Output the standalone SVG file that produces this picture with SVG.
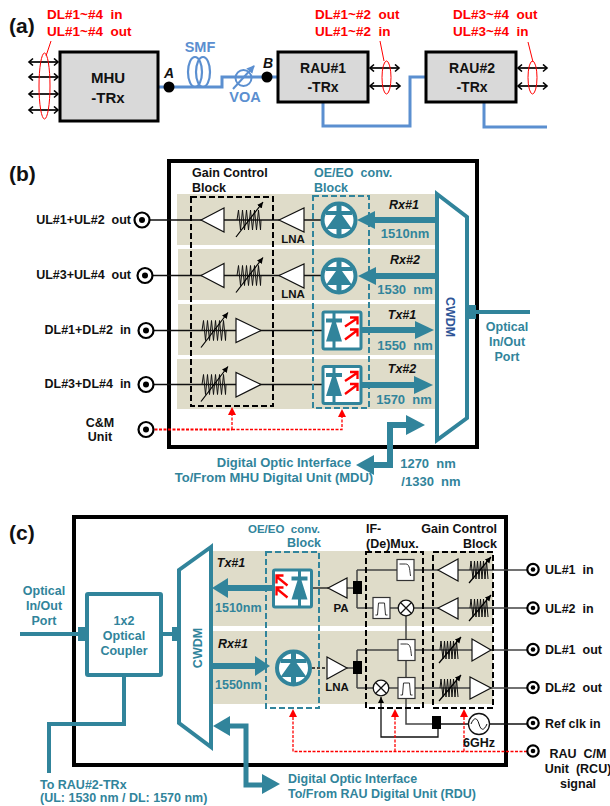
<svg xmlns="http://www.w3.org/2000/svg" width="610" height="806" viewBox="0 0 610 806">
<style>
text{font-family:"Liberation Sans",Arial,sans-serif;font-weight:700;white-space:pre;fill:#111}
.t12{font-size:12.5px}
.m{text-anchor:middle}
.e{text-anchor:end}
.red{fill:#f00;font-size:13.5px}
.teal{fill:#31849b;font-size:12.5px}
.blue{fill:#5b8fd0;font-size:14.5px}
.it{font-style:italic;font-size:12.5px}
.big{font-size:21px}
.box{fill:#d9d9d9;stroke:#000;stroke-width:3}
.frame{fill:#fff;stroke:#000;stroke-width:4}
.band{fill:#dfdcc9}
.dk{fill:none;stroke:#000;stroke-width:2;stroke-dasharray:6 3}
.dt{fill:none;stroke:#31849b;stroke-width:2;stroke-dasharray:6 3}
.amp{fill:#fff;stroke:#111;stroke-width:1.2}
.ln{fill:none;stroke:#111;stroke-width:1.3}
.lg{fill:none;stroke:#444;stroke-width:1.5}
.fib{fill:none;stroke:#5b8fd0;stroke-width:3}
.tl{fill:none;stroke:#31849b;stroke-width:4}
.tf{fill:#31849b}
.rd{fill:none;stroke:#f00;stroke-width:1.3;stroke-dasharray:3 1.5}
.rf{fill:#f00}
.ro{fill:none;stroke:#f00;stroke-width:1}
.da{fill:none;stroke:#000;stroke-width:1.7;marker-start:url(#chev);marker-end:url(#chev)}
.fl{fill:#fff;stroke:#333;stroke-width:1.2}
</style>
<defs>
<marker id="chev" markerWidth="8" markerHeight="10" refX="5.5" refY="4" orient="auto-start-reverse" markerUnits="userSpaceOnUse"><path d="M1.5,.5 L5.5,4 L1.5,7.500" fill="none" stroke="#000" stroke-width="1.6"/></marker>
<marker id="ah" markerWidth="8" markerHeight="8" refX="6" refY="3" orient="auto" markerUnits="userSpaceOnUse"><path d="M0,0 L6,3 L0,6Z" fill="#000"/></marker>
<marker id="ahb" markerWidth="10" markerHeight="10" refX="7" refY="4" orient="auto" markerUnits="userSpaceOnUse"><path d="M0,0 L8,4 L0,8Z" fill="#5b8fd0"/></marker>
<g id="att"><path d="M-12,0 L-10.5,-10 L-8.5,10 L-6.5,-10 L-4.5,10 L-2.5,-10 L-.5,10 L1.5,-10 L3.5,10 L5.500,-10 L7.500,10 L9.500,-10 L11.500,10 L12,0" fill="none" stroke="#111" stroke-width="1"/><path d="M-13,17 L14,-18" fill="none" stroke="#000" stroke-width="1.2" marker-end="url(#ah)"/></g>
<g id="att2"><path d="M-9,0 L-8,-9 L-6,9 L-4.500,-9 L-3,9 L-1.500,-9 L0,9 L1.500,-9 L3,9 L4.500,-9 L6,9 L7.500,-9 L9,9" fill="none" stroke="#111" stroke-width="1"/><path d="M-10,13 L12,-13" fill="none" stroke="#000" stroke-width="1.2" marker-end="url(#ah)"/></g>
<g id="pd"><circle r="16.500" fill="#fff" stroke="#31849b" stroke-width="4"/><path d="M-2.500,-16 H2.500 V-9 H13 V-5 H3 L13,9 H2.500 V16 H-2.500 V9 H-13 L-3,-5 H-13 V-9 H-2.500Z" fill="#31849b"/></g>
<g id="ld"><rect x="-19" y="-18.500" width="38" height="37" rx="1.500" fill="#fff" stroke="#31849b" stroke-width="3"/><path d="M-9.500,-18 H-6.500 V-12 H0 V-8 H-6 L0,11 H-6.500 V18 H-9.500 V11 H-16 L-10,-8 H-16 V-12 H-9.500Z" fill="#31849b"/><path d="M3,-4 L15,-12 M8,-13 H15.500 V-6 M3,9 L15,0 M8,-1 H15.500 V6" fill="none" stroke="#f00" stroke-width="2.300"/></g>
<g id="ldm"><rect x="-19" y="-18.500" width="38" height="37" rx="1.500" fill="#fff" stroke="#31849b" stroke-width="3"/><path d="M5.500,-18 H8.500 V-12 H15 V-8 H9 L15,11 H8.500 V18 H5.500 V11 H-1 L5,-8 H-1 V-12 H5.500Z" fill="#31849b"/><path d="M-5,-3 L-16,-12 M-16,-5 V-13 H-9 M-5,9 L-16,0 M-16,7 V-1 H-9" fill="none" stroke="#f00" stroke-width="2.300"/></g>
<g id="port"><circle r="7.500" fill="#fff" stroke="#000" stroke-width="2.200"/><circle r="3" fill="#000"/></g>
<g id="portc"><circle r="5.700" fill="#fff" stroke="#000" stroke-width="2.200"/><circle r="2.300" fill="#000"/></g>
<g id="mix"><circle r="7.800" fill="#fff" stroke="#111" stroke-width="1.300"/><path d="M-5.500,-5.500 L5.500,5.500 M-5.500,5.500 L5.500,-5.500" stroke="#111" stroke-width="1.300"/></g>
<g id="lp"><rect x="-8.500" y="-10.500" width="17" height="21" class="fl"/><path d="M-6,-6 H0 C4,-6 4,-2 5,6" fill="none" stroke="#333" stroke-width="1"/></g>
<g id="bp"><rect x="-8.500" y="-10.500" width="17" height="21" class="fl"/><path d="M-6,7 H-4 L-3,-5 H3 L4,7 H6" fill="none" stroke="#333" stroke-width="1"/></g>
</defs>
<rect width="610" height="806" fill="#fff"/>

<!-- panel a -->
<text class="big" x="9" y="33">(a)</text>
<g id="a-connectors">
<path class="fib" d="M158,87 H222 V77 H278"/>
<path class="fib" d="M323,102 V126 H410 V77 H426"/>
<path class="fib" d="M484,102 V127 H547"/>
<path class="da" d="M29,62 H58"/><path class="da" d="M29,77 H58"/><path class="da" d="M29,94 H58"/><path class="da" d="M29,110 H58"/>
<path class="da" d="M370,68 H399"/><path class="da" d="M370,86 H400"/>
<path class="da" d="M518,68 H547"/><path class="da" d="M518,86 H547"/>
<ellipse class="ro" cx="44.500" cy="86" rx="5.500" ry="33"/><path class="ro" d="M51,41 L46,56"/>
<ellipse class="ro" cx="386.500" cy="77.500" rx="4.500" ry="16.500"/><path class="ro" d="M380,41 L384,61"/>
<ellipse class="ro" cx="532.500" cy="77.500" rx="4.500" ry="16.500"/><path class="ro" d="M528,42 L533,62"/>
</g>
<g id="mhu"><rect class="box" x="60" y="52" width="98" height="69"/><text class="m" style="font-size:15px" x="108" y="83">MHU</text><text class="m" style="font-size:15px" x="108" y="103">-TRx</text></g>
<g id="rau1"><rect class="box" x="278" y="52" width="90" height="50"/><text class="m" style="font-size:14px" x="323" y="73">RAU#1</text><text class="m" style="font-size:14px" x="323" y="92">-TRx</text></g>
<g id="rau2"><rect class="box" x="426" y="52" width="90" height="50"/><text class="m" style="font-size:14px" x="472" y="73">RAU#2</text><text class="m" style="font-size:14px" x="472" y="92">-TRx</text></g>
<g id="smf"><ellipse cx="195" cy="72" rx="7" ry="15" fill="none" stroke="#5b8fd0" stroke-width="2.200"/><ellipse cx="203" cy="72" rx="7" ry="15" fill="none" stroke="#5b8fd0" stroke-width="2.200"/><text class="blue m" x="200" y="52">SMF</text></g>
<g id="voa"><circle cx="243.500" cy="78" r="8" fill="none" stroke="#5b8fd0" stroke-width="2"/><path d="M233,89 L254,66" fill="none" stroke="#5b8fd0" stroke-width="2" marker-end="url(#ahb)"/><text class="blue m" x="245" y="102">VOA</text></g>
<g id="pointA"><circle cx="169" cy="87" r="5.500" fill="#000"/><text class="it" style="font-size:14px" x="164" y="78">A</text></g>
<g id="pointB"><circle cx="267" cy="77" r="5.500" fill="#000"/><text class="it" style="font-size:14px" x="263" y="68">B</text></g>
<g id="a-labels">
<text class="red" x="47" y="19">DL#1~#4  in</text><text class="red" x="47" y="36">UL#1~#4  out</text>
<text class="red" x="315" y="19">DL#1~#2  out</text><text class="red" x="315" y="36">UL#1~#2  in</text>
<text class="red" x="453" y="19">DL#3~#4  out</text><text class="red" x="453" y="36">UL#3~#4  in</text>
</g>

<!-- panel b -->
<text class="big" x="9" y="181">(b)</text>
<rect class="frame" x="169" y="161" width="308" height="286"/>
<g id="b-bands">
<rect class="band" x="177" y="194" width="258" height="51"/><rect class="band" x="178" y="249" width="257" height="51"/>
<rect class="band" x="178" y="304" width="257" height="51"/><rect class="band" x="177" y="359" width="258" height="50"/>
</g>
<g id="b-connectors">
<path class="ln" d="M146,220 H322"/><path class="ln" d="M149,275.500 H322"/>
<path class="ln" d="M150,330.500 H323"/><path class="ln" d="M150,384.500 H323"/>
<path class="rd" style="stroke-width:1.800" d="M150,429.500 H232"/>
<path class="rd" d="M232,429.500 H342 V416 M232,429.500 V414"/>
<path class="rf" d="M232,407 L236,415 H228Z M342,409 L346,417 H338Z"/>
<path class="tl" d="M467,312 H530"/>
<rect class="tf" x="467" y="305" width="9" height="14"/>
</g>
<g id="gain-block-b"><rect class="dk" x="191" y="197" width="82" height="209"/><text class="t12" x="192" y="177">Gain Control</text><text class="t12" x="192" y="192">Block</text></g>
<g id="oe-block-b"><rect class="dt" x="313" y="196" width="56" height="212"/><text class="teal" x="314" y="177">OE/EO  conv.</text><text class="teal" x="314" y="192">Block</text></g>
<g id="rx1-b"><polygon class="amp" points="201,220 224,208 224,232"/><use href="#att" x="249" y="220"/><polygon class="amp" points="279,220 304,208 304,232"/><text class="m" style="font-size:11.500px" x="293" y="243">LNA</text><use href="#pd" x="339" y="220"/></g>
<g id="rx2-b"><polygon class="amp" points="201,275.500 224,263.500 224,287.500"/><use href="#att" x="249" y="275.500"/><polygon class="amp" points="279,275.500 304,264 304,288"/><text class="m" style="font-size:11.500px" x="293" y="298">LNA</text><use href="#pd" x="339" y="276"/></g>
<g id="tx1-b"><use href="#att" x="214" y="330.500"/><polygon class="amp" points="236,318.500 236,342.500 261,330.500"/><use href="#ld" x="342" y="330.500"/></g>
<g id="tx2-b"><use href="#att" x="214" y="384.500"/><polygon class="amp" points="236,372.500 236,397 261,384.500"/><use href="#ld" x="342" y="385"/></g>
<g id="b-optical">
<path class="tl" style="stroke-width:6" d="M370,220 H436"/><polygon class="tf" points="357,220 375,211 375,229"/>
<path class="tl" style="stroke-width:6" d="M372,276 H436"/><polygon class="tf" points="358,276 376,267 376,285"/>
<path class="tl" style="stroke-width:6" d="M362,330 H418"/><polygon class="tf" points="434,330 415,321 415,339"/>
<path class="tl" style="stroke-width:6" d="M362,385 H416"/><polygon class="tf" points="433,385 414,376 414,394"/>
<path class="tl" style="stroke-width:6" d="M408,425 H390 V465 H372"/>
<polygon class="tf" points="425,425 406,415 406,435"/><polygon class="tf" points="356,465 374,455 374,475"/>
</g>
<g id="cwdm-b"><polygon points="437,194 467,217 467,418 437,440" fill="#fff" stroke="#31849b" stroke-width="4"/><text class="m" style="font-size:12.500px;fill:#2f5597" transform="translate(446,317) rotate(90)">CWDM</text></g>
<g id="b-labels">
<text class="it m" x="404" y="209">Rx#1</text><text class="teal m" style="font-size:13px" x="405" y="238">1510nm</text>
<text class="it m" x="405" y="264">Rx#2</text><text class="teal m" style="font-size:13px" x="405" y="294">1530  nm</text>
<text class="it m" x="402" y="319">Tx#1</text><text class="teal m" style="font-size:13px" x="405" y="350">1550  nm</text>
<text class="it m" x="402" y="373">Tx#2</text><text class="teal m" style="font-size:13px" x="404" y="404">1570  nm</text>
<text class="teal m" x="507" y="331">Optical</text><text class="teal m" x="507" y="346">In/Out</text><text class="teal m" x="507" y="361">Port</text>
<text class="teal m" style="font-size:13px" x="284" y="467">Digital Optic Interface</text><text class="teal m" style="font-size:13px" x="274" y="482">To/From MHU Digital Unit (MDU)</text>
<text class="teal m" style="font-size:13px" x="428" y="468">1270  nm</text><text class="teal m" style="font-size:13px" x="431" y="486">/1330  nm</text>
</g>
<g id="port-ul12"><use href="#port" x="142" y="220"/><text class="t12 e" x="131" y="224">UL#1+UL#2  out</text></g>
<g id="port-ul34"><use href="#port" x="145" y="275.500"/><text class="t12 e" x="131" y="279">UL#3+UL#4  out</text></g>
<g id="port-dl12"><use href="#port" x="146" y="330.500"/><text class="t12 e" x="131" y="334">DL#1+DL#2  in</text></g>
<g id="port-dl34"><use href="#port" x="146" y="384.500"/><text class="t12 e" x="131" y="388">DL#3+DL#4  in</text></g>
<g id="port-cm"><use href="#port" x="146" y="429.500"/><text class="t12 m" x="100" y="427">C&amp;M</text><text class="t12 m" x="100" y="441">Unit</text></g>

<!-- panel c -->
<text class="big" x="9" y="540">(c)</text>
<rect class="frame" x="74" y="517" width="432" height="248"/>
<g id="c-bands"><rect class="band" x="212" y="551" width="281" height="75"/><rect class="band" x="212" y="631" width="281" height="73"/></g>
<g id="c-connectors">
<path class="lg" d="M347,588 H357 M357,570 V608 M357,570 H527 M357,608 H527"/>
<path class="ln" d="M312,588 H328"/>
<path class="lg" d="M347,668 H357 M357,650 V688 M357,650 H527 M357,688 H527"/>
<path class="ln" stroke-dasharray="3 2" d="M312,668 H327"/>
<path class="lg" d="M406,616 V724 H432"/>
<path class="ln" d="M441,724 H527"/>
<path class="ln" d="M438,729 V737 H381 V697" marker-end="url(#ah)"/>
<path class="rd" d="M527,751.500 H293 V716 M395,751.500 V716 M464,751.500 V716"/>
<path class="rf" d="M293,709 L297,717 H289Z M395,709 L399,717 H391Z M464,709 L468,717 H460Z"/>
<path class="tl" d="M20,634 H87 M161,634 H180"/>
<rect class="tf" x="78" y="627" width="10" height="14"/><rect class="tf" x="172" y="627" width="9" height="14"/>
<path class="tl" d="M124,675 V724 H49 V773"/>
</g>
<g id="oe-block-c"><rect class="dt" x="266" y="552" width="53" height="156"/><text class="teal m" style="font-size:11.500px" x="284" y="533">OE/EO  conv.</text><text class="teal" style="font-size:12.500px" x="287" y="547">Block</text></g>
<g id="mux-block"><rect class="dk" x="366" y="552" width="57" height="156"/><text class="t12" x="366" y="533">IF-</text><text class="t12" x="366" y="548">(De)Mux.</text></g>
<g id="gain-block-c"><rect class="dk" x="433" y="552" width="60" height="156"/><text class="t12 e" x="497" y="533">Gain Control</text><text class="t12 e" x="497" y="548">Block</text></g>
<g id="tx-c"><use href="#ldm" x="292.500" y="588.500"/><polygon class="amp" points="328,588 347,578 347,598"/><text class="m" style="font-size:11.500px" x="341" y="612">PA</text><rect x="353" y="581" width="9" height="13" fill="#000"/></g>
<g id="rx-c"><use href="#pd" x="293.500" y="668"/><polygon class="amp" points="327,657 327,679 347,668"/><text class="m" style="font-size:11.500px" x="337" y="691">LNA</text><rect x="353" y="661" width="9" height="13" fill="#000"/></g>
<g id="mux-c">
<use href="#lp" x="405.500" y="570"/><use href="#bp" x="381.500" y="608"/><use href="#mix" x="406" y="608"/>
<use href="#lp" x="406.500" y="650"/><use href="#mix" x="381" y="688"/><use href="#bp" x="406.500" y="688"/>
</g>
<g id="gain-c">
<polygon class="amp" points="438,570 458,559 458,581"/><use href="#att2" x="479" y="570"/>
<polygon class="amp" points="438,608 458,598 458,619"/><use href="#att2" x="479" y="608"/>
<use href="#att2" x="449" y="650"/><polygon class="amp" points="472,639 472,661 491,650"/>
<use href="#att2" x="449" y="688"/><polygon class="amp" points="470,677 470,699 491,688"/>
</g>
<g id="clock-c"><rect x="432" y="716" width="9" height="13" fill="#000"/><circle cx="479" cy="724" r="10.500" fill="#fff" stroke="#111" stroke-width="1.300"/><path d="M471,724 C474,717 477,717 479,724 C481,731 484,731 487,724" fill="none" stroke="#111" stroke-width="1"/><text class="m" style="font-size:12.500px" x="479" y="747">6GHz</text></g>
<g id="c-optical">
<path class="tl" style="stroke-width:6" d="M226,588 H273"/><polygon class="tf" points="212,588 228,578 228,598"/>
<path class="tl" style="stroke-width:6" d="M212,666 H257"/><polygon class="tf" points="270,666 255,656 255,676"/>
<path class="tl" style="stroke-width:5" d="M229,726 H246 V785 H264"/>
<polygon class="tf" points="213,726 230,716 230,736"/><polygon class="tf" points="280,784 262,774 262,794"/>
</g>
<g id="cwdm-c"><polygon points="211,547 179,570 179,723 211,747" fill="#fff" stroke="#31849b" stroke-width="4"/><text class="m teal" transform="translate(202,648) rotate(-90)">CWDM</text></g>
<g id="coupler"><rect x="87" y="594" width="74" height="81" rx="1" fill="#fff" stroke="#31849b" stroke-width="4"/><text class="teal m" x="124" y="625">1x2</text><text class="teal m" x="124" y="640">Optical</text><text class="teal m" x="124" y="655">Coupler</text></g>
<g id="c-labels">
<text class="it m" x="231" y="567">Tx#1</text><text class="teal" style="font-size:12.500px" x="215" y="612">1510nm</text>
<text class="it m" x="233" y="648">Rx#1</text><text class="teal" style="font-size:12.500px" x="215" y="689">1550nm</text>
<text class="teal m" x="44" y="595">Optical</text><text class="teal m" x="44" y="610">In/Out</text><text class="teal m" x="44" y="625">Port</text>
<text class="teal" x="40" y="789">To RAU#2-TRx</text><text class="teal" x="40" y="802">(UL: 1530 nm / DL: 1570 nm)</text>
<text class="teal" x="288" y="783">Digital Optic Interface</text><text class="teal" x="288" y="798">To/From RAU Digital Unit (RDU)</text>
</g>
<g id="port-ul1"><use href="#portc" x="533" y="569.500"/><text class="t12" x="545" y="574">UL#1  in</text></g>
<g id="port-ul2"><use href="#portc" x="533" y="608"/><text class="t12" x="545" y="613">UL#2  in</text></g>
<g id="port-dl1"><use href="#portc" x="533" y="649.500"/><text class="t12" x="545" y="654">DL#1  out</text></g>
<g id="port-dl2"><use href="#portc" x="533" y="687.500"/><text class="t12" x="545" y="692">DL#2  out</text></g>
<g id="port-ref"><use href="#portc" x="533" y="723"/><text class="t12" x="545" y="728">Ref clk in</text></g>
<g id="port-rcu"><use href="#portc" x="533" y="751"/><text class="t12 m" x="578" y="758">RAU  C/M</text><text class="t12 m" x="578" y="773">Unit  (RCU)</text><text class="t12 m" x="578" y="788">signal</text></g>
</svg>
